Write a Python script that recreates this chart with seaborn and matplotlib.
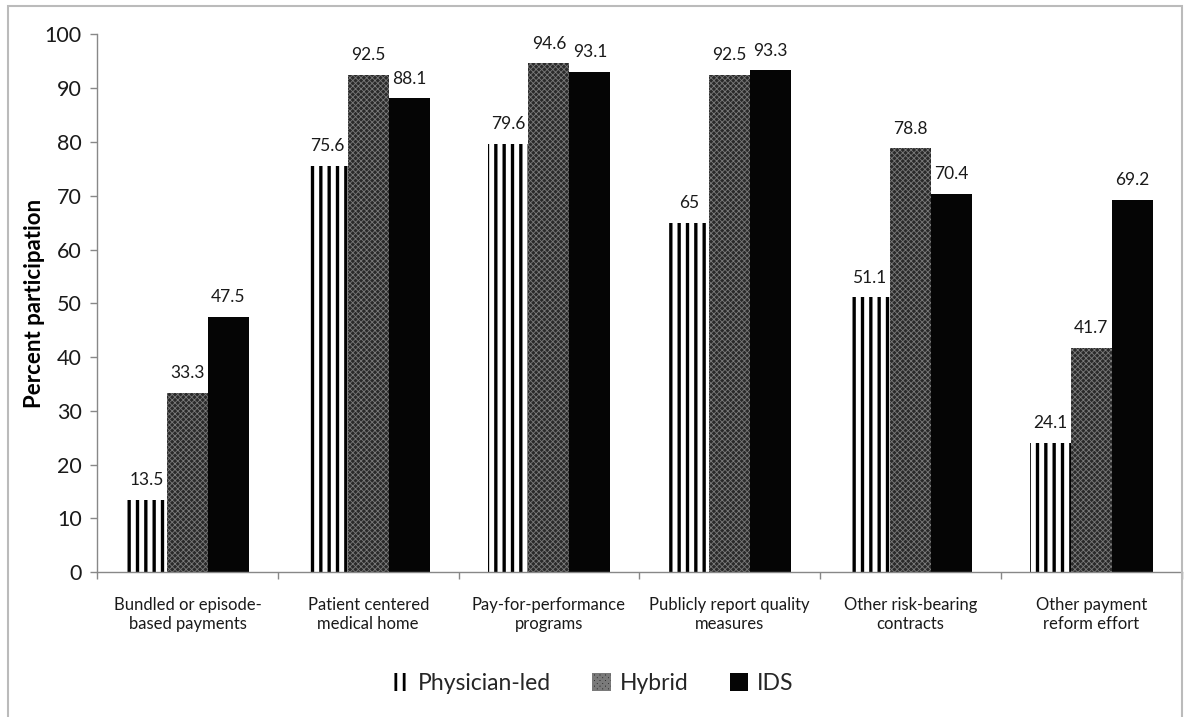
import numpy as np
import pandas as pd
import seaborn as sns
import matplotlib.pyplot as plt
from matplotlib.patches import Patch, Rectangle

sns.set_theme(style='white')
plt.rcParams['font.family'] = ['Lato', 'DejaVu Sans']
plt.rcParams['hatch.linewidth'] = 2.0

# data
categories = ['Bundled or episode-\nbased payments', 'Patient centered\nmedical home',
              'Pay-for-performance\nprograms', 'Publicly report quality\nmeasures',
              'Other risk-bearing\ncontracts', 'Other payment\nreform effort']
groups = ['Physician-led', 'Hybrid', 'IDS']
physician = [13.5, 75.6, 79.6, 65, 51.1, 24.1]
hybrid = [33.3, 92.5, 94.6, 92.5, 78.8, 41.7]
ids = [47.5, 88.1, 93.1, 93.3, 70.4, 69.2]

df = pd.DataFrame({
    'category': categories * 3,
    'group': [g for g in groups for _ in categories],
    'value': physician + hybrid + ids,
})

fig = plt.figure(figsize=(11.84, 7.17), dpi=100)
ax = fig.add_axes([0.082, 0.202, 0.916, 0.750])

sns.barplot(data=df, x='category', y='value', hue='group', hue_order=groups,
            order=categories, width=0.68, gap=0, legend=False, ax=ax,
            palette=['white', '#333333', '#050505'], saturation=1)

styles = {
    'Physician-led': dict(fc='white', hatch='||', ec='black', hl=2.4),
    'Hybrid': dict(fc='#2a2a2a', hatch='xxxxxx', ec='#7a7a7a', hl=0.6),
    'IDS': dict(fc='#050505', hatch='', ec='#050505', hl=1.0),
}

for cont, g in zip(ax.containers, groups):
    st = styles[g]
    for bar in cont:
        bar.set_facecolor(st['fc'])
        bar.set_edgecolor(st['ec'])
        bar.set_hatch(st['hatch'])
        bar.set_linewidth(0)
        if hasattr(bar, 'set_hatch_linewidth'):
            bar.set_hatch_linewidth(st['hl'])
        v = bar.get_height()
        ax.text(bar.get_x() + bar.get_width() / 2, v + 2.2, f'{v:g}',
                ha='center', va='bottom', fontsize=12.5, color='#1a1a1a')

ax.set_ylim(0, 100)
ax.set_xlim(-0.5, 5.5)
ax.set_yticks(range(0, 101, 10))
ax.tick_params(axis='y', labelsize=15.5, colors='#888888', labelcolor='#1a1a1a',
               length=5, width=1, left=True, pad=6)
ax.tick_params(axis='x', labelsize=12, labelcolor='#1a1a1a', bottom=False, pad=12)
ax.set_xticks(np.arange(-0.5, 6, 1), minor=True)
ax.tick_params(axis='x', which='minor', bottom=True, length=5, width=1, colors='#888888')
ax.set_xlabel('')
ax.set_ylabel('Percent participation', fontsize=16, fontweight='bold', color='black', labelpad=0)
for s in ['top', 'right']:
    ax.spines[s].set_visible(False)
for s in ['left', 'bottom']:
    ax.spines[s].set_color('#888888')
    ax.spines[s].set_linewidth(1)

handles = []
for g in groups:
    st = styles[g]
    h = Patch(facecolor=st['fc'], edgecolor=st['ec'], hatch=st['hatch'], linewidth=0, label=g)
    handles.append(h)
fig.legend(handles=handles, loc='center', bbox_to_anchor=(0.5, 0.047), ncol=3,
           frameon=False, fontsize=16.5, handlelength=0.8, handleheight=0.8,
           handletextpad=0.4, columnspacing=1.8)

fig.add_artist(Rectangle((0.0068, -0.02), 0.9916, 1.0116, transform=fig.transFigure,
                         fill=False, edgecolor='#bbbbbb', linewidth=1.5))

fig.savefig('out.png', dpi=100)
